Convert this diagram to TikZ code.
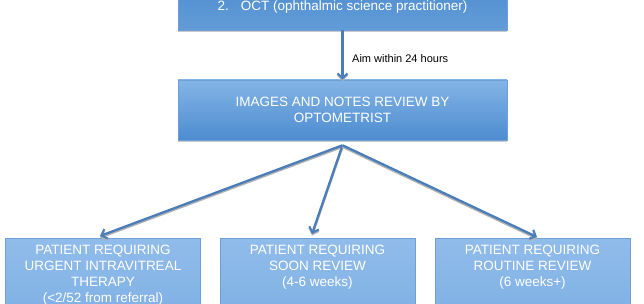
\documentclass[tikz,border=0pt]{standalone}
\usepackage{fontspec}
\setmainfont{Liberation Sans}
\usetikzlibrary{arrows.meta,shadows}
\definecolor{arrowblue}{RGB}{74,126,187}
\definecolor{topA}{RGB}{80,142,208}
\definecolor{topB}{RGB}{98,156,216}
\definecolor{midA}{RGB}{132,180,230}
\definecolor{midB}{RGB}{76,140,208}
\definecolor{lowA}{RGB}{144,188,234}
\definecolor{lowB}{RGB}{124,174,228}
\definecolor{edgeblue}{RGB}{110,160,215}
\begin{document}
\begin{tikzpicture}[x=1pt,y=1pt,
  boxbase/.style={draw=edgeblue, line width=0.6pt, text=white, align=center,
    font=\fontsize{13.5}{16}\selectfont,
    drop shadow={shadow xshift=0pt, shadow yshift=-2.5pt, opacity=0.35, fill=black!60}},
  topbox/.style={boxbase, top color=topA, bottom color=topB, minimum width=329pt, minimum height=46pt, inner sep=0pt},
  midbox/.style={boxbase, top color=midA, bottom color=midB, minimum width=329pt, minimum height=60pt, inner sep=0pt},
  lowbox/.style={boxbase, top color=lowA, bottom color=lowB, minimum width=195pt, anchor=north, inner xsep=0pt, inner ysep=7pt},
  flow/.style={draw=arrowblue, line width=2.3pt, -{Straight Barb[length=5pt,width=10pt,line width=2pt]},
    preaction={draw=black!30, line width=2.3pt, transform canvas={yshift=-1.5pt}}},
  lbl/.style={font=\fontsize{11}{13}\selectfont, anchor=west, inner sep=0pt}
]
\useasboundingbox (0,0) rectangle (644,-304);
\clip (0,0) rectangle (644,-304);
\fill[white] (0,0) rectangle (644,-304);

\node[topbox] (oct) at (342.5,-7) {2.\hspace{0.9em}OCT (ophthalmic science practitioner)};
\node[midbox] (rev) at (342.5,-110) {IMAGES AND NOTES REVIEW BY\\OPTOMETRIST};

\node[lowbox] (urgent) at (103,-238) {\parbox[t][80pt][t]{190pt}{\centering PATIENT REQUIRING\\URGENT INTRAVITREAL\\THERAPY\\(<2/52 from referral)}};
\node[lowbox] (soon) at (317.5,-238) {\parbox[t][80pt][t]{190pt}{\centering PATIENT REQUIRING\\SOON REVIEW\\(4-6 weeks)}};
\node[lowbox] (routine) at (532.5,-238) {\parbox[t][80pt][t]{190pt}{\centering PATIENT REQUIRING\\ROUTINE REVIEW\\(6 weeks+)}};

\coordinate (apex) at ([yshift=-5pt]rev.south);

\draw[flow] (oct.south) -- (rev.north);
\node[lbl] (aim) at (352,-59) {Aim within 24 hours};

\draw[flow] (apex) -- ([xshift=-3pt,yshift=2pt]urgent.north);
\draw[flow] (apex) -- ([xshift=-5.5pt,yshift=4pt]soon.north);
\draw[flow] (apex) -- ([xshift=4.5pt,yshift=1pt]routine.north);
\end{tikzpicture}
\end{document}
